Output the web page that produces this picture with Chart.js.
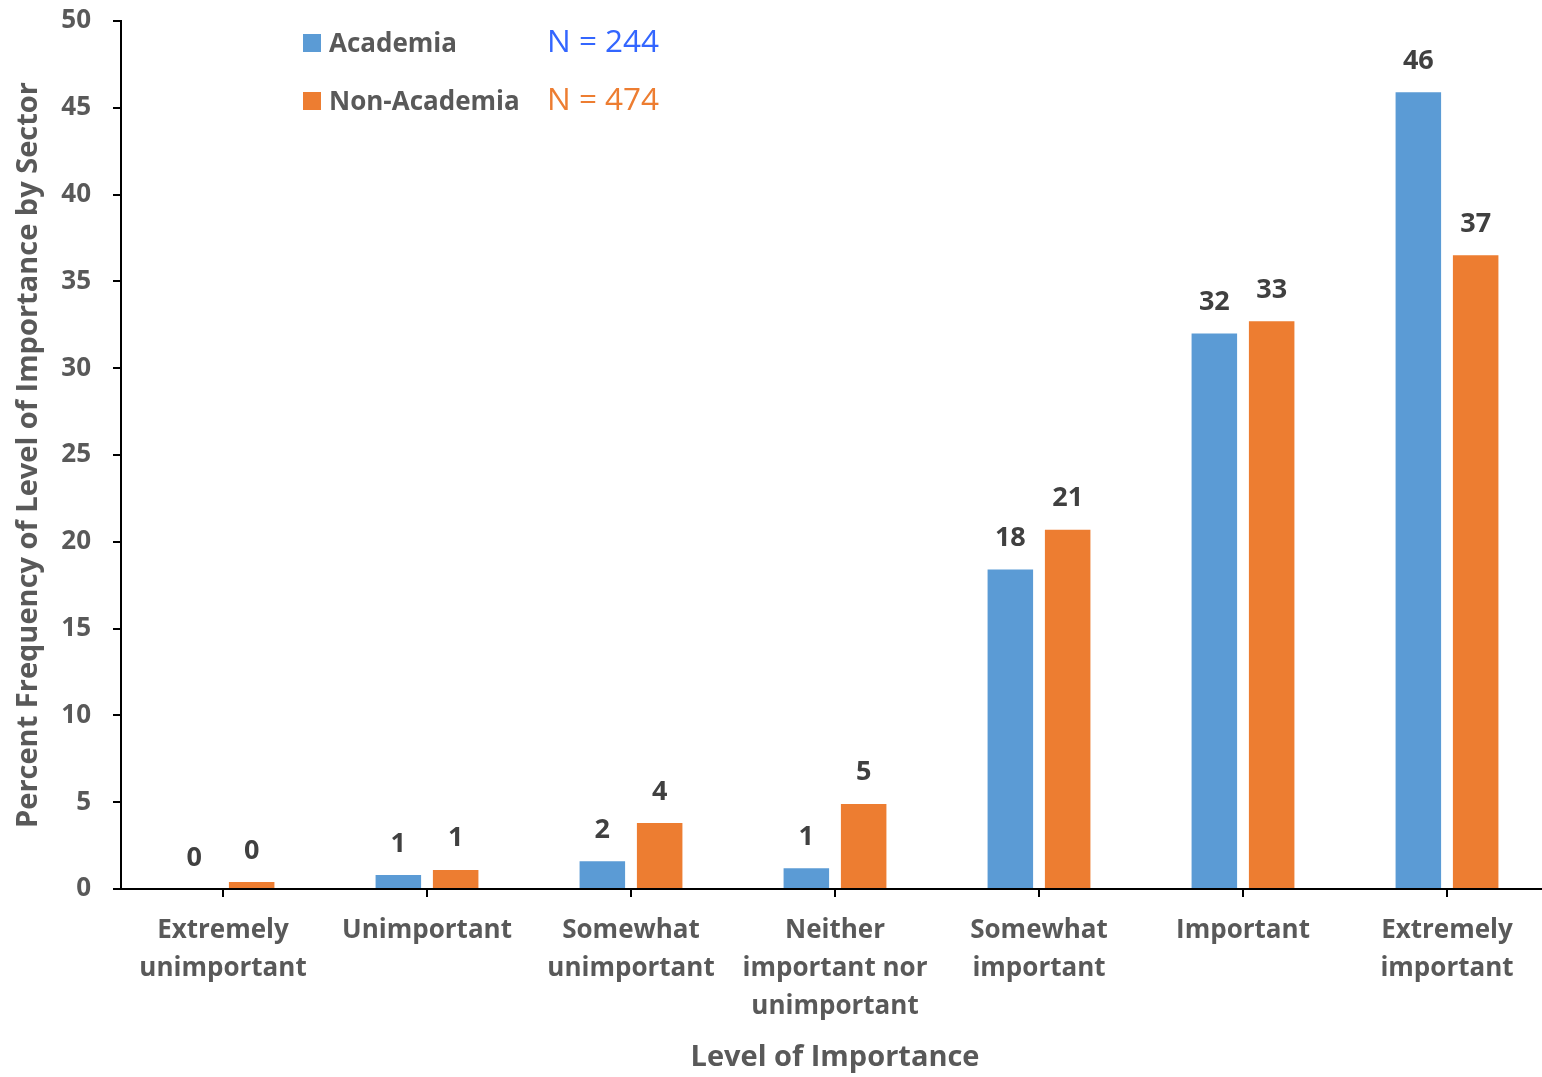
<!DOCTYPE html>
<html>
<head>
<meta charset="utf-8">
<title>Level of Importance by Sector</title>
<script src="https://cdn.jsdelivr.net/npm/chart.js@4.4.1/dist/chart.umd.min.js"></script>
<style>
  html, body { margin: 0; padding: 0; background: #ffffff; overflow: hidden; }
  #wrap { position: relative; width: 1549px; height: 1077px; }
</style>
</head>
<body>
<div id="wrap"><canvas id="chart"></canvas></div>
<script>
// Response categories (multi-line labels as arrays)
const categories = [
  ["Extremely", "unimportant"],
  "Unimportant",
  ["Somewhat", "unimportant"],
  ["Neither", "important nor", "unimportant"],
  ["Somewhat", "important"],
  "Important",
  ["Extremely", "important"]
];

// Series names and sample sizes
const seriesNames = ["Academia", "Non-Academia"];
const sampleSizes = [244, 474];

// Percent frequency per category
const academia    = [0.0, 0.8, 1.6, 1.2, 18.4, 32.0, 45.9];
const nonAcademia = [0.4, 1.1, 3.8, 4.9, 20.7, 32.7, 36.5];

// Value axis range
const yMin = 0;
const yMax = 50;
const yStep = 5;

const FONT = "'Open Sans', 'DejaVu Sans', sans-serif";
const TEXT_GREY = "#595959";
const LABEL_DARK = "#404040";
const COLORS = ["#5B9BD5", "#ED7D31"];
const N_COLORS = ["#3366FF", "#ED7D31"];

// Rounded value labels above each bar
const valueLabels = {
  id: "valueLabels",
  afterDatasetsDraw(chart) {
    const ctx = chart.ctx;
    ctx.save();
    ctx.font = "bold 27px " + FONT;
    ctx.fillStyle = LABEL_DARK;
    ctx.textAlign = "center";
    ctx.textBaseline = "alphabetic";
    chart.data.datasets.forEach((ds, i) => {
      const meta = chart.getDatasetMeta(i);
      meta.data.forEach((bar, j) => {
        ctx.fillText(String(Math.round(ds.data[j])), bar.x, bar.y - 23.5);
      });
    });
    ctx.restore();
  }
};

// Legend with sample sizes, drawn inside the plot area
const sectorLegend = {
  id: "sectorLegend",
  afterDraw(chart) {
    const ctx = chart.ctx;
    const ca = chart.chartArea;
    const x0 = ca.left + 182;
    const baselines = [ca.top + 31, ca.top + 89];
    ctx.save();
    ctx.textAlign = "left";
    ctx.textBaseline = "alphabetic";
    chart.data.datasets.forEach((ds, i) => {
      const b = baselines[i];
      ctx.fillStyle = ds.backgroundColor;
      ctx.fillRect(x0, b - 18, 18, 18);
      ctx.font = "bold 26px " + FONT;
      ctx.fillStyle = TEXT_GREY;
      ctx.fillText(ds.label, x0 + 26, b);
      ctx.font = "31.5px " + FONT;
      ctx.fillStyle = N_COLORS[i];
      ctx.fillText("N = " + sampleSizes[i], ca.left + 426, b);
    });
    ctx.restore();
  }
};

new Chart(document.getElementById("chart"), {
  type: "bar",
  data: {
    labels: categories,
    datasets: [
      { label: seriesNames[0], data: academia, backgroundColor: COLORS[0],
        categoryPercentage: 0.562, barPercentage: 0.794 },
      { label: seriesNames[1], data: nonAcademia, backgroundColor: COLORS[1],
        categoryPercentage: 0.562, barPercentage: 0.794 }
    ]
  },
  options: {
    responsive: true,
    maintainAspectRatio: false,
    animation: false,
    layout: { padding: { top: 21, right: 0, bottom: 0, left: 0 } },
    plugins: {
      legend: { display: false },
      tooltip: { enabled: false }
    },
    scales: {
      x: {
        offset: true,
        grid: {
          display: true, drawOnChartArea: false, drawTicks: true,
          tickLength: 8, offset: false, color: "#000000", lineWidth: 2
        },
        border: { display: true, color: "#000000", width: 2 },
        ticks: {
          autoSkip: false, maxRotation: 0, minRotation: 0, padding: 15,
          color: TEXT_GREY,
          font: { family: FONT, size: 26, weight: "bold", lineHeight: 1.46 }
        },
        title: {
          display: true, text: "Level of Importance", color: TEXT_GREY,
          font: { family: FONT, size: 29, weight: "bold", lineHeight: 1.2 },
          padding: { top: 0, bottom: 2 }
        },
        afterFit(scale) { scale.height = 188; }
      },
      y: {
        min: yMin, max: yMax,
        grid: {
          display: true, drawOnChartArea: false, drawTicks: true,
          tickLength: 8, color: "#000000", lineWidth: 2
        },
        border: { display: true, color: "#000000", width: 2 },
        ticks: {
          stepSize: yStep, padding: 22, color: TEXT_GREY,
          font: { family: FONT, size: 26, weight: "bold" }
        },
        title: {
          display: true, text: "Percent Frequency of Level of Importance by Sector",
          color: TEXT_GREY,
          font: { family: FONT, size: 29, weight: "bold", lineHeight: 1.2 },
          padding: { top: 11, bottom: 0 }
        },
        afterFit(scale) {
          scale.width = 121;
          scale.paddingTop = 0;
          scale.paddingBottom = 0;
        }
      }
    }
  },
  plugins: [valueLabels, sectorLegend]
});
</script>
</body>
</html>
